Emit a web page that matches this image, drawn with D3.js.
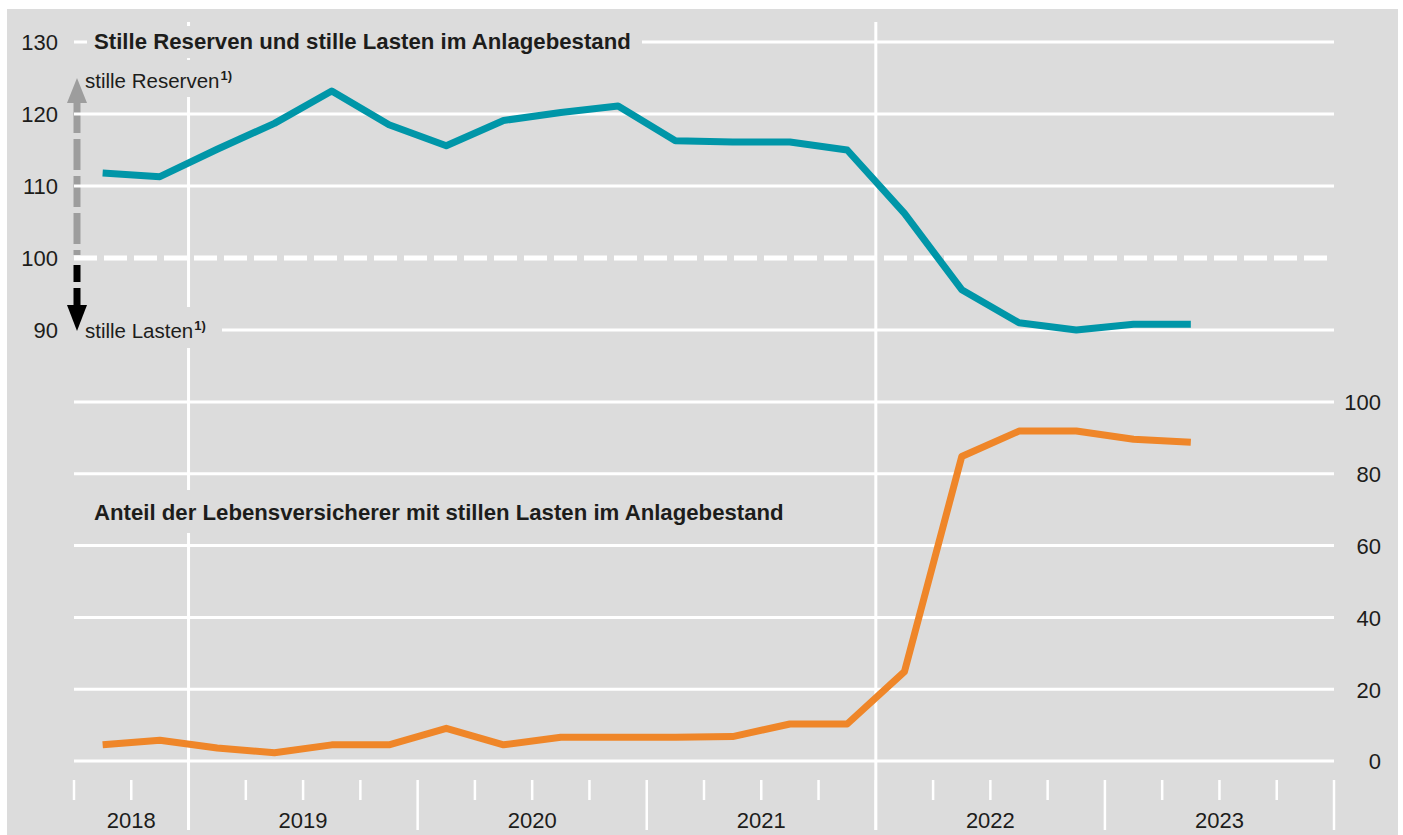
<!DOCTYPE html>
<html>
<head>
<meta charset="utf-8">
<script src="https://cdn.jsdelivr.net/npm/d3@7"></script>
<style>
  html, body { margin: 0; padding: 0; background: #ffffff; }
  svg { display: block; font-family: "Liberation Sans", Arial, sans-serif; }
</style>
</head>
<body>
<svg id="chart" width="1403" height="835"></svg>
<script>
// ---- data ----
const quarters = ["2018Q3","2018Q4","2019Q1","2019Q2","2019Q3","2019Q4","2020Q1","2020Q2","2020Q3","2020Q4",
                  "2021Q1","2021Q2","2021Q3","2021Q4","2022Q1","2022Q2","2022Q3","2022Q4","2023Q1","2023Q2"];
const reserves = [111.8, 111.3, 115.1, 118.7, 123.2, 118.5, 115.6, 119.1, 120.2, 121.1,
                  116.3, 116.1, 116.1, 115.0, 106.2, 95.6, 91.0, 90.0, 90.8, 90.8];
const shareWithLosses = [4.5, 5.8, 3.6, 2.3, 4.5, 4.5, 9.1, 4.5, 6.6, 6.6,
                         6.6, 6.8, 10.3, 10.3, 24.9, 84.8, 91.9, 91.9, 89.6, 88.8];
const years = ["2018","2019","2020","2021","2022","2023"];
const yearStartQuarter = [0, 2, 6, 10, 14, 18];   // quarter index (from 2018Q3) where each year begins on the axis
const axisQuarterCount = 22;                       // 2018Q3 .. 2023Q4
const topTicks = [90, 100, 110, 120, 130];
const bottomTicks = [0, 20, 40, 60, 80, 100];
const title1 = "Stille Reserven und stille Lasten im Anlagebestand";
const title2 = "Anteil der Lebensversicherer mit stillen Lasten im Anlagebestand";
const labelReserves = "stille Reserven";
const labelLosses = "stille Lasten";
const footnoteMark = "1)";

// ---- styling ----
const BG = "#dcdcdc", TEAL = "#0096a8", ORANGE = "#ef8629", TXT = "#1d1d1b";

const svg = d3.select("#chart");
const x = d3.scaleLinear().domain([0, axisQuarterCount]).range([74, 1334]);
const yTop = d3.scaleLinear().domain([90, 130]).range([330, 42]);
const yBot = d3.scaleLinear().domain([0, 100]).range([761, 402]);
const [x0, x1] = x.range();

svg.append("rect").attr("x", 7).attr("y", 9).attr("width", 1391).attr("height", 826).attr("fill", BG);

// arrows (under gridlines)
const ax = 77;
svg.append("line").attr("x1", ax).attr("x2", ax).attr("y1", 102).attr("y2", 255)
  .attr("stroke", "#9d9d9d").attr("stroke-width", 7).attr("stroke-dasharray", "31,6");
svg.append("line").attr("x1", ax).attr("x2", ax).attr("y1", 265).attr("y2", 306)
  .attr("stroke", "#000").attr("stroke-width", 7).attr("stroke-dasharray", "17,6");

// gridlines
svg.append("g").selectAll("line").data(topTicks).join("line")
  .attr("x1", x0).attr("x2", x1)
  .attr("y1", d => yTop(d)).attr("y2", d => yTop(d))
  .attr("stroke", "#fff")
  .attr("stroke-width", d => d === 100 ? 5 : 3)
  .attr("stroke-dasharray", d => d === 100 ? "23,7" : null);
svg.append("g").selectAll("line").data(bottomTicks).join("line")
  .attr("x1", x0).attr("x2", x1)
  .attr("y1", d => yBot(d)).attr("y2", d => yBot(d))
  .attr("stroke", "#fff").attr("stroke-width", 3);

// full-height vertical lines at start of 2019 and 2022
svg.append("g").selectAll("line").data([yearStartQuarter[1], yearStartQuarter[4]]).join("line")
  .attr("x1", d => x(d)).attr("x2", d => x(d))
  .attr("y1", 22).attr("y2", 830)
  .attr("stroke", "#fff").attr("stroke-width", 3);

// quarter ticks
const quarterTicks = d3.range(0, axisQuarterCount + 1);
svg.append("g").selectAll("line").data(quarterTicks).join("line")
  .attr("x1", d => x(d)).attr("x2", d => x(d))
  .attr("y1", 780)
  .attr("y2", d => (yearStartQuarter.includes(d) && d > 0) || d === axisQuarterCount ? 830 : 800)
  .attr("stroke", "#fff").attr("stroke-width", 2.5);

// year labels
const yearEnds = yearStartQuarter.slice(1).concat([axisQuarterCount]);
svg.append("g").selectAll("text").data(years).join("text")
  .attr("x", (d, i) => x((yearStartQuarter[i] + yearEnds[i]) / 2))
  .attr("y", 828)
  .attr("text-anchor", "middle").attr("font-size", 22).attr("fill", TXT)
  .text(d => d);

// label knock-out backgrounds
svg.append("rect").attr("x", 87).attr("y", 26).attr("width", 555).attr("height", 32).attr("fill", BG);
svg.append("rect").attr("x", 82).attr("y", 60).attr("width", 160).attr("height", 37).attr("fill", BG);
svg.append("rect").attr("x", 70).attr("y", 307).attr("width", 152).attr("height", 41).attr("fill", BG);
svg.append("rect").attr("x", 87).attr("y", 490).attr("width", 705).attr("height", 43).attr("fill", BG);

// arrowheads
svg.append("path").attr("d", `M${ax},331 L${ax-10},305 L${ax+10},305 Z`).attr("fill", "#000");
svg.append("path").attr("d", `M${ax},78 L${ax-10},103 L${ax+10},103 Z`).attr("fill", "#9d9d9d");

// axes (labels only)
const leftAxis = svg.append("g").attr("transform", "translate(58,0)")
  .call(d3.axisLeft(yTop).tickValues(topTicks).tickSize(0).tickPadding(0));
const rightAxis = svg.append("g").attr("transform", "translate(1381,0)")
  .call(d3.axisLeft(yBot).tickValues(bottomTicks).tickSize(0).tickPadding(0));
[leftAxis, rightAxis].forEach(g => {
  g.select(".domain").remove();
  g.selectAll("text").attr("font-size", 22).attr("fill", TXT)
    .attr("font-family", "Liberation Sans, Arial, sans-serif").attr("dy", "0.36em");
});

// titles
svg.append("text").attr("x", 94).attr("y", 49).attr("font-size", 22.2).attr("font-weight", "bold")
  .attr("fill", TXT).text(title1);
svg.append("text").attr("x", 94).attr("y", 520).attr("font-size", 22.2).attr("font-weight", "bold")
  .attr("fill", TXT).text(title2);

// arrow labels
const t1 = svg.append("text").attr("x", 85).attr("y", 88).attr("font-size", 20.5).attr("fill", TXT);
t1.append("tspan").text(labelReserves);
t1.append("tspan").attr("font-size", 13).attr("font-weight", "bold").attr("dy", -8).attr("dx", 1).text(footnoteMark);
const t2 = svg.append("text").attr("x", 85).attr("y", 338).attr("font-size", 20.5).attr("fill", TXT);
t2.append("tspan").text(labelLosses);
t2.append("tspan").attr("font-size", 13).attr("font-weight", "bold").attr("dy", -8).attr("dx", 1).text(footnoteMark);

// data lines
const lineTop = d3.line().x((d, i) => x(i + 0.5)).y(d => yTop(d));
const lineBot = d3.line().x((d, i) => x(i + 0.5)).y(d => yBot(d));
svg.append("path").datum(reserves).attr("d", lineTop)
  .attr("fill", "none").attr("stroke", TEAL).attr("stroke-width", 7).attr("stroke-linejoin", "round");
svg.append("path").datum(shareWithLosses).attr("d", lineBot)
  .attr("fill", "none").attr("stroke", ORANGE).attr("stroke-width", 7).attr("stroke-linejoin", "round");
</script>
</body>
</html>
